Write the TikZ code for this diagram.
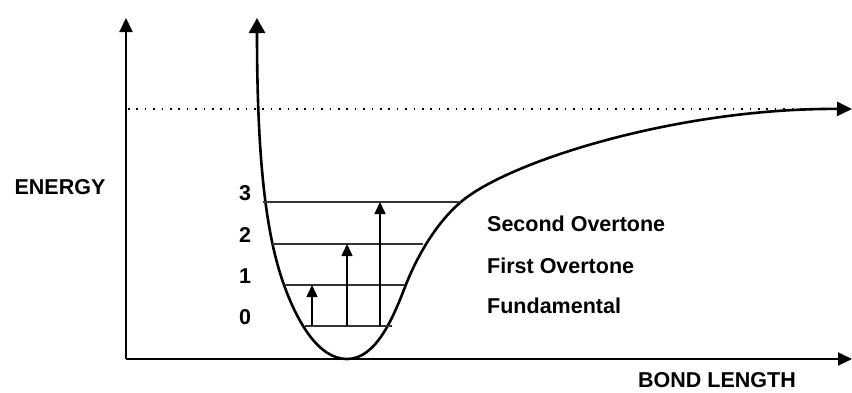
\documentclass[tikz,border=0pt]{standalone}
\usepackage{fontspec}
\setmainfont{Liberation Sans}
\usetikzlibrary{arrows.meta}
\tikzset{
  axis/.style={line width=2pt, -{Triangle[length=14pt,width=13pt]}},
  level/.style={line width=1.3pt, black!80},
  trans/.style={line width=1.5pt, -{Triangle[length=12pt,width=11pt]}},
  lbl/.style={font=\bfseries\fontsize{21.5}{24}\selectfont, inner sep=0pt}
}
\begin{document}
\begin{tikzpicture}[x=1pt,y=-1pt]
\useasboundingbox (0,0) rectangle (852,392);
% axes
\coordinate (o) at (126,359);
\coordinate (ytop) at (126,18);
\coordinate (xend) at (852,359);
\draw[axis] (o) -- (ytop);
\draw[axis] (o) -- (xend);
% dissociation limit
\coordinate (d0) at (128,109);
\coordinate (d1) at (840,109);
\draw[line width=2pt, dash pattern=on 1.6pt off 6.8pt] (d0) -- (d1);
% potential curve
\draw[line width=2.6pt, {Triangle[length=15pt,width=16pt]}-{Triangle[length=15pt,width=14pt]}]
  (257,18) .. controls (257,160) and (266,235) .. (284,285)
  .. controls (297,321) and (318,359) .. (347,359)
  .. controls (376,359) and (393,318) .. (405,287)
  .. controls (413,266) and (432,226) .. (462,201)
  .. controls (512,160) and (680,108) .. (852,109);
% levels
\foreach \v/\y/\xl/\xr in {0/326/305/392, 1/285/284/405, 2/244/272/423, 3/202/263/461} {
  \coordinate (l\v) at (\xl,\y);
  \coordinate (r\v) at (\xr,\y);
  \draw[level] (l\v) -- (r\v);
  \node[lbl, anchor=base] (n\v) at (245,\y-1.5) {\v};
}
% transitions
\foreach \v/\x/\y in {1/312/285, 2/347/244, 3/380/202} {
  \coordinate (f\v) at (\x,326);
  \coordinate (t\v) at (\x,\y);
  \draw[trans] (f\v) -- (t\v);
}
\node[lbl, anchor=base] (energy) at (60,194) {ENERGY};
\node[lbl, anchor=base] (bond) at (717,387) {BOND LENGTH};
\node[lbl, anchor=base west] (second) at (487,231) {Second Overtone};
\node[lbl, anchor=base west] (first) at (487,273) {First Overtone};
\node[lbl, anchor=base west] (fund) at (487,313) {Fundamental};
\end{tikzpicture}
\end{document}
